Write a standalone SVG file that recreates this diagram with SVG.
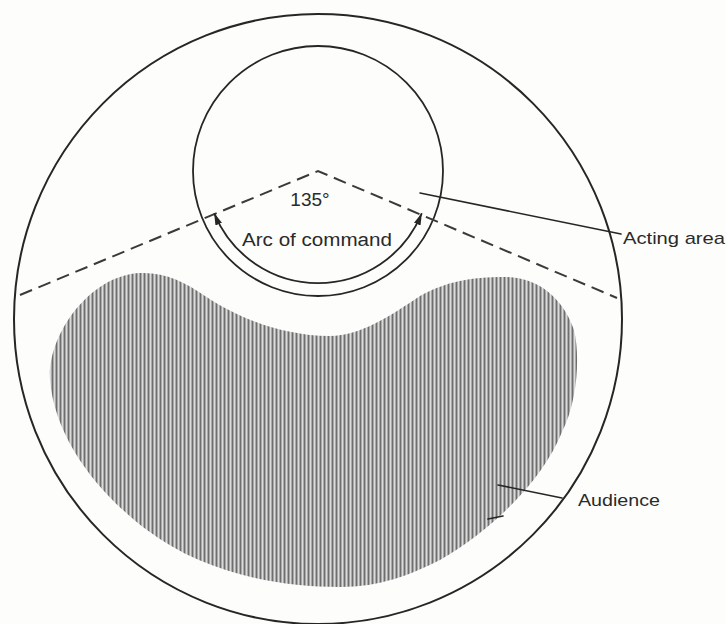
<svg xmlns="http://www.w3.org/2000/svg" width="726" height="624" viewBox="0 0 726 624">
  <style>
    .line { fill: none; stroke: #262626; stroke-linecap: round; }
    .dash { fill: none; stroke: #3a3a3a; stroke-width: 2; stroke-dasharray: 13 7; }
    .lbl { font-family: "Liberation Sans", "DejaVu Sans", sans-serif; fill: #2a2a2a; }
  </style>
  <defs>
    <pattern id="hatch" width="4" height="10" patternUnits="userSpaceOnUse">
      <rect x="0" y="0" width="4" height="10" fill="#a9a9a9"/>
      <rect x="0" y="0" width="1" height="10" fill="#6e6e6e"/>
      <rect x="2" y="0" width="1" height="10" fill="#dadada"/>
    </pattern>
    <marker id="ah" viewBox="0 0 12 12" refX="11" refY="6" markerWidth="12" markerHeight="12" markerUnits="userSpaceOnUse" orient="auto-start-reverse">
      <path d="M0,2.5 L12,6 L0,9.5 z" fill="#262626"/>
    </marker>
  </defs>
  <rect x="0" y="0" width="726" height="624" fill="#fdfdfb"/>

  <g id="venue">
    <ellipse cx="318" cy="319" rx="304" ry="305" class="line" stroke-width="2"/>
  </g>

  <g id="audience">
    <path d="M 140 273 C 165 272, 185 282, 205 296 C 235 316, 280 336, 330 336 C 360 336, 390 316, 420 296 C 445 282, 470 277, 505 277 C 535 277, 562 295, 574 330 C 580 355, 578 400, 562 432 C 545 475, 500 525, 440 560 C 410 575, 380 587, 340 587 C 270 587, 200 570, 147 530 C 100 495, 55 440, 50 380 C 47 335, 90 275, 140 273 Z" fill="url(#hatch)"/>
  </g>

  <g id="acting-area">
    <circle cx="318" cy="171" r="125" class="line" stroke-width="1.8"/>
  </g>

  <g id="connectors">
    <polyline points="20,295 318,171 617,298" class="dash"/>
    <path d="M 214.5 213.9 A 112 112 0 0 0 421.5 213.9" class="line" stroke-width="1.8" marker-start="url(#ah)" marker-end="url(#ah)"/>
    <line x1="420" y1="193" x2="621" y2="234" class="line" stroke-width="1.6"/>
    <line x1="498" y1="485" x2="562" y2="498" class="line" stroke-width="1.6"/>
    <line x1="488" y1="519" x2="503" y2="516" class="line" stroke-width="1.6"/>
  </g>

  <g id="labels">
    <text class="lbl" x="310" y="206" font-size="19" text-anchor="middle">135°</text>
    <text class="lbl" x="242" y="246" font-size="18" textLength="150" lengthAdjust="spacingAndGlyphs">Arc of command</text>
    <text class="lbl" x="623" y="244" font-size="17" textLength="102" lengthAdjust="spacingAndGlyphs">Acting area</text>
    <text class="lbl" x="578" y="506" font-size="17" textLength="82" lengthAdjust="spacingAndGlyphs">Audience</text>
  </g>
</svg>
